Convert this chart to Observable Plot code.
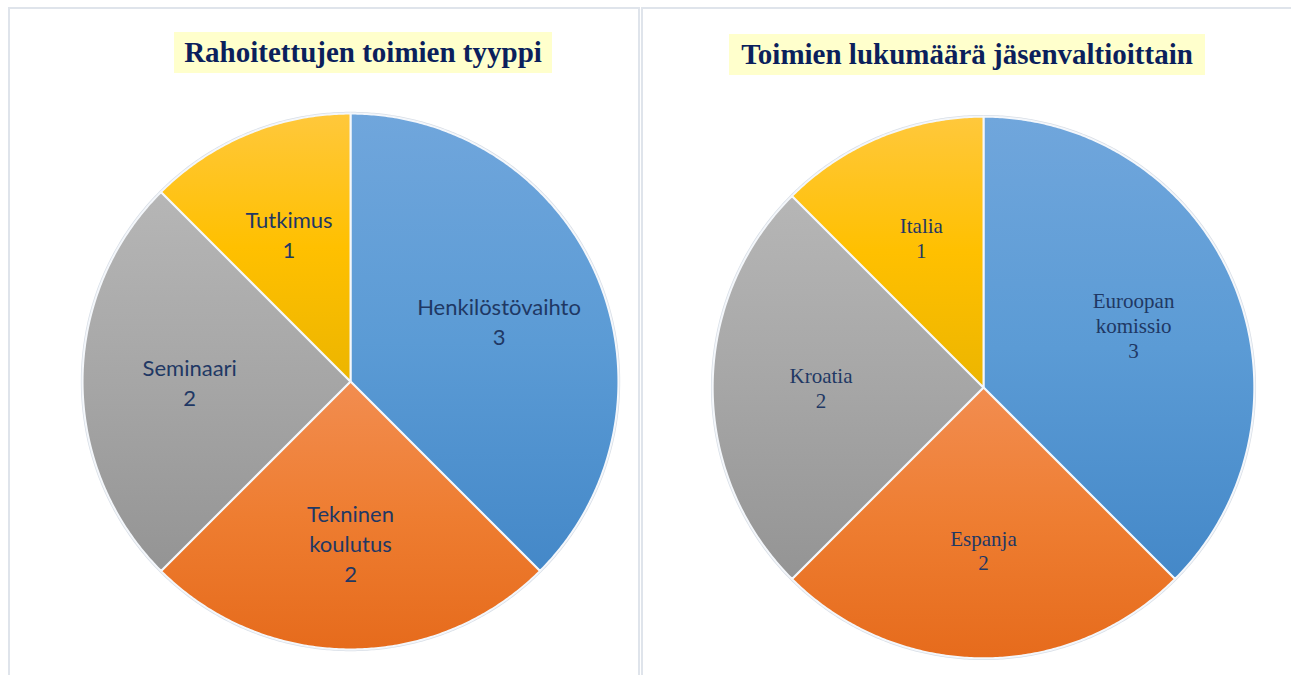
<!DOCTYPE html>
<html><head><meta charset="utf-8">
<script src="https://cdn.jsdelivr.net/npm/d3@7"></script>
<script src="https://cdn.jsdelivr.net/npm/@observablehq/plot@0.6"></script>
<style>
html,body{margin:0;padding:0;background:#fff;width:1291px;height:675px;overflow:hidden;}
.panel{position:absolute;border:2px solid #dfe4eb;box-sizing:border-box;background:#fff;}
.title{position:absolute;background:#ffffcc;color:#0b1f5c;font-family:"Liberation Serif","Times New Roman",serif;font-weight:bold;font-size:29px;text-align:center;white-space:nowrap;}
.chart{position:absolute;}
</style></head><body>
<div class="panel" style="left:8px;top:7px;width:632px;height:700px"></div>
<div class="panel" style="left:641px;top:7px;width:680px;height:700px"></div>
<div class="title" style="left:174px;top:32px;width:378px;height:41px;line-height:41px">Rahoitettujen toimien tyyppi</div>
<div class="title" style="left:729px;top:34px;width:476px;height:41px;line-height:41px">Toimien lukumäärä jäsenvaltioittain</div>
<div id="left" class="chart" style="left:70px;top:101px"></div>
<div id="right" class="chart" style="left:700px;top:104px"></div>
<script>
// Data
const leftCategories = ["Henkilöstövaihto", "Tekninen koulutus", "Seminaari", "Tutkimus"];
const leftLabels = ["Henkilöstövaihto", "Tekninen\nkoulutus", "Seminaari", "Tutkimus"];
const leftValues = [3, 2, 2, 1];

const rightCategories = ["Euroopan komissio", "Espanja", "Kroatia", "Italia"];
const rightLabels = ["Euroopan\nkomissio", "Espanja", "Kroatia", "Italia"];
const rightValues = [3, 2, 2, 1];

// Gradient colours (top, middle, bottom) per slice order
const sliceGradients = [
  ["#70a6dc", "#5b9bd5", "#4488c8"],
  ["#f28d50", "#ee7d31", "#e66b1c"],
  ["#b6b6b6", "#a6a6a6", "#949494"],
  ["#ffc83c", "#ffc000", "#ecb500"]
];

function pieChart(el, {categories, labels, values, size, fontFamily, fontSize, lineHeight, labelK, prefix}) {
  const data = categories.map((c, i) => ({category: c, label: labels[i], value: values[i], i}));
  const arcs = d3.pie().sort(null).value(d => d.value)(data);
  const step = Math.PI / 360;
  const slices = arcs.map(a => {
    const n = Math.max(2, Math.ceil((a.endAngle - a.startAngle) / step));
    const rim = [];
    for (let j = 0; j <= n; j++) {
      const t = a.startAngle + (a.endAngle - a.startAngle) * j / n;
      rim.push({x: Math.sin(t), y: Math.cos(t)});
    }
    return {arc: a, rim, pts: [{x: 0, y: 0}, ...rim, {x: 0, y: 0}]};
  });
  const outline = slices.flatMap(s => s.rim);
  const labelData = arcs.map(a => {
    const m = (a.startAngle + a.endAngle) / 2;
    return {x: labelK * Math.sin(m), y: labelK * Math.cos(m), text: a.data.label + "\n" + a.data.value};
  });
  const svg = Plot.plot({
    width: size, height: size, margin: 0,
    x: {domain: [-1.045, 1.045], axis: null},
    y: {domain: [-1.045, 1.045], axis: null},
    style: {background: "transparent", overflow: "visible"},
    marks: [
      Plot.line(outline, {x: "x", y: "y", stroke: "#d9dfe7", strokeWidth: 3.5}),
      ...slices.map((s, i) => Plot.line(s.pts, {x: "x", y: "y", fill: `url(#${prefix}-g${i})`, stroke: "#f4f7fb", strokeWidth: 2, strokeLinejoin: "round", curve: "linear"})),
      Plot.text(labelData, {x: "x", y: "y", text: "text", fill: "#1f3864", fontSize, fontFamily, lineHeight})
    ]
  });
  const ns = "http://www.w3.org/2000/svg";
  const defs = document.createElementNS(ns, "defs");
  sliceGradients.forEach((g, i) => {
    const lg = document.createElementNS(ns, "linearGradient");
    lg.setAttribute("id", `${prefix}-g${i}`);
    lg.setAttribute("x1", "0"); lg.setAttribute("y1", "0");
    lg.setAttribute("x2", "0"); lg.setAttribute("y2", "1");
    g.forEach((c, k) => {
      const st = document.createElementNS(ns, "stop");
      st.setAttribute("offset", `${k * 50}%`);
      st.setAttribute("stop-color", c);
      lg.appendChild(st);
    });
    defs.appendChild(lg);
  });
  svg.insertBefore(defs, svg.firstChild);
  el.appendChild(svg);
}

pieChart(document.getElementById("left"), {
  categories: leftCategories, labels: leftLabels, values: leftValues,
  size: 560, fontFamily: "Lato, 'Open Sans', sans-serif", fontSize: 22, lineHeight: 1.36, labelK: 0.6, prefix: "L"
});
pieChart(document.getElementById("right"), {
  categories: rightCategories, labels: rightLabels, values: rightValues,
  size: 566, fontFamily: "'Liberation Serif', 'Times New Roman', serif", fontSize: 21, lineHeight: 1.19, labelK: 0.6, prefix: "R"
});
</script>
</body></html>
